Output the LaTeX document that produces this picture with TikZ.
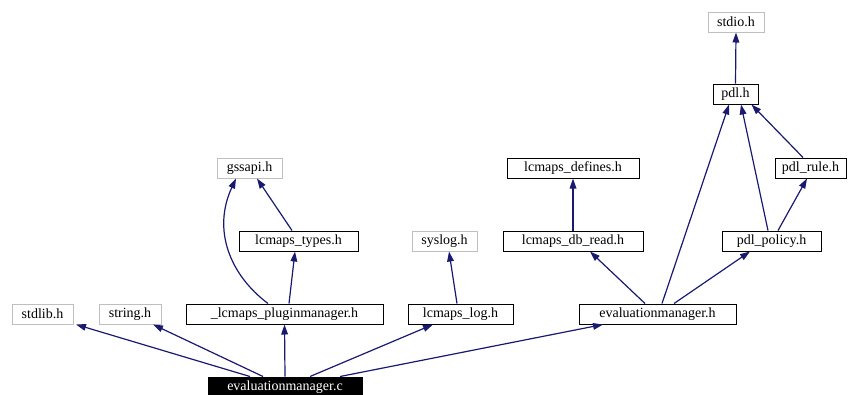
\documentclass[tikz,border=0pt]{standalone}
\usepackage{fontspec}
\setmainfont{Liberation Serif}
\usetikzlibrary{arrows.meta,calc}
\definecolor{edgeblue}{HTML}{191970}
\definecolor{greyframe}{HTML}{BFBFBF}
\begin{document}
\begin{tikzpicture}[x=0.75pt,y=-0.75pt,
  every node/.style={font=\fontsize{10.5}{12}\selectfont, inner sep=0pt, minimum height=15pt, line width=0.75pt},
  filebox/.style={draw=black, fill=white},
  sysbox/.style={draw=greyframe, fill=white},
  mainbox/.style={draw=black, fill=black, text=white},
  edge/.style={draw=edgeblue, line width=0.9pt, -{Triangle[length=7.5pt,width=5pt]}}]
\useasboundingbox (0,0) rectangle (852,394);
\clip (0,0) rectangle (852,394);
% nodes
\node[sysbox, minimum width=42pt] (stdio) at (736,22) {stdio.h};
\node[filebox, minimum width=33.75pt] (pdl) at (735.5,94) {pdl.h};
\node[filebox, minimum width=53.25pt] (rule) at (810.5,168) {pdl\_rule.h};
\node[filebox, minimum width=99pt] (defines) at (573,168) {lcmaps\_defines.h};
\node[filebox, minimum width=105pt] (dbread) at (573,241) {lcmaps\_db\_read.h};
\node[filebox, minimum width=74.25pt] (policy) at (771.5,241) {pdl\_policy.h};
\node[sysbox, minimum width=48.75pt] (gssapi) at (249.5,168) {gssapi.h};
\node[filebox, minimum width=89.25pt] (types) at (298.5,241) {lcmaps\_types.h};
\node[sysbox, minimum width=48.75pt] (syslog) at (444.5,241) {syslog.h};
\node[sysbox, minimum width=45.75pt] (stdlib) at (42.5,314) {stdlib.h};
\node[sysbox, minimum width=46.5pt] (string) at (130,314) {string.h};
\node[filebox, minimum width=147.75pt] (plugin) at (284.5,314) {\_lcmaps\_pluginmanager.h};
\node[filebox, minimum width=78.75pt] (log) at (460.5,314) {lcmaps\_log.h};
\node[filebox, minimum width=117.75pt] (evalh) at (657.5,314) {evaluationmanager.h};
\node[mainbox, minimum width=115.5pt] (evalc) at (285,387) {evaluationmanager.c};
% edges
\draw[edge] ($(evalc.north)+(-35,0)$) -- ($(stdlib.south)+(33.5,0)$);
\draw[edge] ($(evalc.north)+(-22,0)$) -- ($(string.south)+(23,0)$);
\draw[edge] (evalc.north) -- (plugin.south);
\draw[edge] ($(evalc.north)+(25,0)$) -- ($(log.south)+(-27.5,0)$);
\draw[edge] ($(evalc.north)+(55,0)$) -- ($(evalh.south)+(-54.5,0)$);
\draw[edge] ($(plugin.north)+(-16.5,0)$) .. controls (230,275) and (212,230) .. ($(gssapi.south)+(-13.5,0)$);
\draw[edge] ($(plugin.north)+(4.5,0)$) -- ($(types.south)+(-3.5,0)$);
\draw[edge] ($(types.north)+(-6.5,0)$) -- ($(gssapi.south)+(7.5,0)$);
\draw[edge] ($(log.north)+(-3.5,0)$) -- ($(syslog.south)+(4.5,0)$);
\draw[edge] ($(evalh.north)+(-12.5,0)$) -- ($(dbread.south)+(17,0)$);
\draw[edge] ($(evalh.north)+(4.5,0)$) -- ($(pdl.south)+(-6.5,0)$);
\draw[edge] ($(evalh.north)+(16.5,0)$) -- ($(policy.south)+(-21.5,0)$);
\draw[edge] (dbread.north) -- (defines.south);
\draw[edge] ($(policy.north)+(-3.5,0)$) -- ($(pdl.south)+(5.5,0)$);
\draw[edge] ($(policy.north)+(6.5,0)$) -- ($(rule.south)+(-3.5,0)$);
\draw[edge] ($(rule.north)+(-7.5,0)$) -- ($(pdl.south)+(16,0)$);
\draw[edge] (pdl.north) -- (stdio.south);
\end{tikzpicture}
\end{document}
